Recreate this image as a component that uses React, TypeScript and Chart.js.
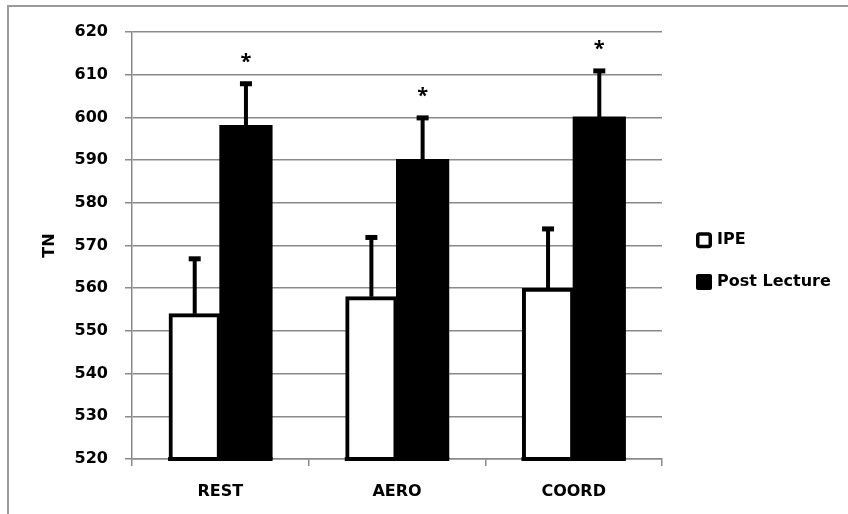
import React, { useEffect, useRef } from "react";
import { Chart, registerables } from "chart.js";

Chart.register(...registerables);

const categories = ["REST", "AERO", "COORD"];
const seriesNames = ["IPE", "Post Lecture"];
const ipeValues = [554, 558, 560];
const postValues = [598, 590, 600];
const ipeErrors = [13, 14, 14];
const postErrors = [10, 10, 11];
const significant = [true, true, true];
const yTicks = [520, 530, 540, 550, 560, 570, 580, 590, 600, 610, 620];
const yTitle = "TN";

const FONT = "'DejaVu Sans', 'Open Sans', sans-serif";
const GRID = "#8a8a8a";

const extrasPlugin = {
  id: "extras",
  afterDatasetsDraw(chart: any) {
    const ctx = chart.ctx;
    const y = chart.scales.y;
    const errs = [ipeErrors, postErrors];
    const vals = [ipeValues, postValues];
    ctx.save();
    chart.data.datasets.forEach((ds: any, di: number) => {
      const meta = chart.getDatasetMeta(di);
      meta.data.forEach((bar: any, i: number) => {
        const top = y.getPixelForValue(vals[di][i]);
        const capY = y.getPixelForValue(vals[di][i] + errs[di][i]);
        ctx.strokeStyle = "#000";
        ctx.lineWidth = 4;
        ctx.beginPath();
        ctx.moveTo(bar.x, top);
        ctx.lineTo(bar.x, capY);
        ctx.stroke();
        ctx.fillStyle = "#000";
        ctx.fillRect(bar.x - 6, capY - 2, 12, 5);
        if (di === 1 && significant[i]) {
          ctx.font = `bold 20px 'Open Sans', sans-serif`;
          ctx.textAlign = "center";
          ctx.textBaseline = "alphabetic";
          ctx.fillText("*", bar.x, capY - 15);
        }
      });
    });
    chart.data.datasets.forEach((ds: any, di: number) => {
      const meta = chart.getDatasetMeta(di);
      meta.data.forEach((bar: any) => {
        ctx.fillStyle = "#000";
        ctx.fillRect(bar.x - bar.width / 2 - 1, chart.chartArea.bottom - 2, bar.width + 2, 4);
      });
    });
    ctx.restore();
  },
  afterDraw(chart: any) {
    const ctx = chart.ctx;
    const area = chart.chartArea;
    ctx.save();
    ctx.translate(50, (area.top + area.bottom) / 2);
    ctx.rotate(-Math.PI / 2);
    ctx.font = `bold 16px ${FONT}`;
    ctx.fillStyle = "#000";
    ctx.textAlign = "center";
    ctx.textBaseline = "middle";
    ctx.fillText(yTitle, 0, 0);
    ctx.restore();
    ctx.save();
    const lx = 696;
    const ys = [240, 282];
    chart.data.datasets.forEach((ds: any, i: number) => {
      const cy = ys[i];
      ctx.beginPath();
      if (i === 0) {
        ctx.fillStyle = "#fff";
        ctx.strokeStyle = "#000";
        ctx.lineWidth = 3.5;
        ctx.roundRect(lx + 1.75, cy - 6, 12.5, 12.5, 2);
        ctx.fill();
        ctx.stroke();
      } else {
        ctx.fillStyle = "#000";
        ctx.roundRect(lx, cy - 8, 16, 16, 2);
        ctx.fill();
      }
      ctx.fillStyle = "#000";
      ctx.font = `bold 16px ${FONT}`;
      ctx.textAlign = "left";
      ctx.textBaseline = "middle";
      ctx.fillText(ds.label, 717, cy);
    });
    ctx.restore();
  },
};

export default function App() {
  const ref = useRef<HTMLCanvasElement | null>(null);
  useEffect(() => {
    if (!ref.current) return;
    const chart = new Chart(ref.current, {
      type: "bar",
      data: {
        labels: categories,
        datasets: [
          {
            label: seriesNames[0],
            data: ipeValues,
            backgroundColor: "#ffffff",
            borderColor: "#000000",
            borderWidth: 4,
            borderSkipped: false,
            inflateAmount: 0.5,
          },
          {
            label: seriesNames[1],
            data: postValues,
            backgroundColor: "#000000",
            borderColor: "#000000",
            borderWidth: 0,
            inflateAmount: 1,
          },
        ],
      },
      options: {
        responsive: false,
        animation: false,
        layout: { padding: { left: 0, top: 32, right: 186, bottom: 0 } },
        plugins: { legend: { display: false }, tooltip: { enabled: false } },
        datasets: { bar: { categoryPercentage: 0.58, barPercentage: 1.0 } },
        scales: {
          x: {
            grid: {
              display: true,
              drawOnChartArea: false,
              drawTicks: true,
              tickLength: 7,
              offset: true,
              color: GRID,
              lineWidth: 1.5,
            },
            border: { color: GRID, width: 1.5 },
            ticks: {
              color: "#000",
              font: { family: FONT, size: 16, weight: "bold" },
              padding: 16,
            },
            afterFit: (s: any) => {
              s.height = 55;
            },
          },
          y: {
            min: 520,
            max: 620,
            afterBuildTicks: (s: any) => {
              s.ticks = yTicks.map((v) => ({ value: v }));
            },
            grid: { color: GRID, lineWidth: 1.5, tickLength: 7 },
            border: { color: GRID, width: 1.5 },
            ticks: {
              color: "#000",
              font: { family: FONT, size: 16, weight: "bold" },
              padding: 17,
            },
            afterFit: (s: any) => {
              s.width = 132;
            },
          },
        },
      },
      plugins: [extrasPlugin],
    });
    return () => chart.destroy();
  }, []);
  return (
    <div
      style={{
        position: "fixed",
        left: 0,
        top: 0,
        width: 848,
        height: 514,
        overflow: "hidden",
        background: "#fff",
      }}
    >
      <div
        style={{
          position: "absolute",
          left: 7,
          top: 5,
          width: 860,
          height: 530,
          border: "2px solid #9a9a9a",
          boxSizing: "border-box",
        }}
      />
      <canvas
        ref={ref}
        width={848}
        height={514}
        style={{ position: "absolute", left: 0, top: 0, width: 848, height: 514 }}
      />
    </div>
  );
}
